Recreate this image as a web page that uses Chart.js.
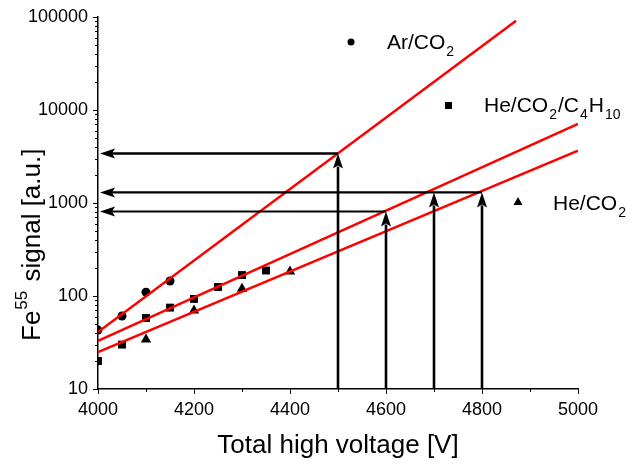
<!DOCTYPE html>
<html>
<head>
<meta charset="utf-8">
<script src="https://cdn.jsdelivr.net/npm/chart.js@4.4.1/dist/chart.umd.min.js"></script>
<style>
  body { margin: 0; background: #fff; }
  #wrap { width: 638px; height: 464px; }
</style>
</head>
<body>
<div id="wrap"><canvas id="feChart"></canvas></div>
<script>
// measured points
var arX = [4000, 4050, 4100, 4150];
var arY = [43, 61, 110, 145];
var c4X = [4000, 4050, 4100, 4150, 4200, 4250, 4300, 4350];
var c4Y = [20, 30, 58, 75, 93, 125, 168, 188];
var heX = [4100, 4200, 4300, 4400];
var heY = [34, 70, 120, 183];

// exponential fits (end points)
var arFitX = [4000, 4871];
var arFitY = [41, 91000];
var c4FitX = [4000, 5000];
var c4FitY = [33, 7100];
var heFitX = [4000, 5000];
var heFitY = [25, 3650];

// working points: vertical arrows up to the fit, horizontal arrows back to the axis
var arrowX = [4500, 4600, 4700, 4800];
var arrowY = [3400, 810, 1300, 1300];
var hArrowFrom = [4500, 4600, 4800];
var hArrowY = [3400, 810, 1300];

var yMajor = [10, 100, 1000, 10000, 100000];
var xMajor = [4000, 4200, 4400, 4600, 4800, 5000];

function pts(xs, ys) {
    return xs.map(function(x, i) { return {x: x, y: ys[i]}; });
}

var FONT = 'Arial, "Liberation Sans", sans-serif';

function arrowHead(ctx, x, y, dir) {
    // dir: 'up' or 'left'
    ctx.beginPath();
    if (dir === 'up') {
        ctx.moveTo(x, y);
        ctx.lineTo(x - 5, y + 15);
        ctx.lineTo(x, y + 12);
        ctx.lineTo(x + 5, y + 15);
    } else {
        ctx.moveTo(x, y);
        ctx.lineTo(x + 15, y - 5);
        ctx.lineTo(x + 12, y);
        ctx.lineTo(x + 15, y + 5);
    }
    ctx.closePath();
    ctx.fill();
}

function subText(ctx, parts, x, y) {
    // parts: [text, isSub]
    parts.forEach(function(p) {
        if (p[1]) {
            ctx.font = '14px ' + FONT;
            ctx.fillText(p[0], x + 1, y + 7);
            x += ctx.measureText(p[0]).width + 2;
        } else {
            ctx.font = '21px ' + FONT;
            ctx.fillText(p[0], x, y);
            x += ctx.measureText(p[0]).width;
        }
    });
}

var extras = {
    id: 'extras',
    afterDraw: function(chart) {
        var ctx = chart.ctx;
        var xs = chart.scales.x, ys = chart.scales.y;
        var x0 = xs.getPixelForValue(4000);
        var yb = ys.getPixelForValue(10);
        ctx.save();
        ctx.strokeStyle = '#000';
        ctx.fillStyle = '#000';

        // minor ticks
        ctx.lineWidth = 1;
        ctx.beginPath();
        for (var d = 10; d < 100000; d *= 10) {
            for (var m = 2; m < 10; m++) {
                var py = Math.round(ys.getPixelForValue(d * m)) + 0.5;
                ctx.moveTo(x0 - 3, py);
                ctx.lineTo(x0, py);
            }
        }
        for (var v = 4100; v < 5000; v += 200) {
            var px = Math.round(xs.getPixelForValue(v)) + 0.5;
            ctx.moveTo(px, yb);
            ctx.lineTo(px, yb + 3);
        }
        ctx.stroke();

        // horizontal arrows
        hArrowY.forEach(function(val, i) {
            var py = ys.getPixelForValue(val);
            var pxFrom = xs.getPixelForValue(hArrowFrom[i]);
            ctx.lineWidth = i === 1 ? 1.8 : 2.4;
            ctx.beginPath();
            ctx.moveTo(pxFrom, py);
            ctx.lineTo(x0 + 13, py);
            ctx.stroke();
            arrowHead(ctx, x0 + 2, py, 'left');
        });

        // vertical arrows
        ctx.lineWidth = 2.6;
        arrowX.forEach(function(val, i) {
            var px = xs.getPixelForValue(val);
            var py = ys.getPixelForValue(arrowY[i]);
            ctx.beginPath();
            ctx.moveTo(px, yb);
            ctx.lineTo(px, py + 13);
            ctx.stroke();
            arrowHead(ctx, px, py, 'up');
        });

        // legend labels
        ctx.textAlign = 'left';
        ctx.textBaseline = 'alphabetic';
        ctx.beginPath();
        ctx.arc(351, 42, 3.5, 0, Math.PI * 2);
        ctx.fill();
        subText(ctx, [['Ar/CO', 0], ['2', 1]], 387, 49);
        ctx.fillRect(445, 102, 7, 7);
        subText(ctx, [['He/CO', 0], ['2', 1], ['/C', 0], ['4', 1], ['H', 0], ['10', 1]], 484, 112);
        ctx.beginPath();
        ctx.moveTo(518, 197);
        ctx.lineTo(522.5, 205);
        ctx.lineTo(513.5, 205);
        ctx.closePath();
        ctx.fill();
        subText(ctx, [['He/CO', 0], ['2', 1]], 553, 210);

        // y title with superscript
        ctx.translate(40, 341);
        ctx.rotate(-Math.PI / 2);
        ctx.font = '26px ' + FONT;
        ctx.fillText('Fe', 0, 0);
        var w = ctx.measureText('Fe').width;
        ctx.font = '17px ' + FONT;
        ctx.fillText('55', w + 1, -13);
        w += ctx.measureText('55').width + 3;
        ctx.font = '26px ' + FONT;
        ctx.fillText(' signal [a.u.]', w, 0);
        ctx.restore();
    }
};

var ctx1 = document.getElementById('feChart').getContext('2d');
var feChart = new Chart(ctx1, {
    type: 'scatter',
    data: {
        datasets: [
            {label: 'Ar/CO2 fit', type: 'line', data: pts(arFitX, arFitY), borderColor: '#ff0000', borderWidth: 2.5, pointRadius: 0, fill: false},
            {label: 'He/CO2/C4H10 fit', type: 'line', data: pts(c4FitX, c4FitY), borderColor: '#ff0000', borderWidth: 2.5, pointRadius: 0, fill: false},
            {label: 'He/CO2 fit', type: 'line', data: pts(heFitX, heFitY), borderColor: '#ff0000', borderWidth: 2.5, pointRadius: 0, fill: false},
            {label: 'Ar/CO2', data: pts(arX, arY), pointStyle: 'circle', pointRadius: 4.5, backgroundColor: '#000', borderColor: '#000', borderWidth: 0},
            {label: 'He/CO2/C4H10', data: pts(c4X, c4Y), pointStyle: 'rect', pointRadius: 5.6, backgroundColor: '#000', borderColor: '#000', borderWidth: 0},
            {label: 'He/CO2', data: pts(heX, heY), pointStyle: 'triangle', pointRadius: 6, backgroundColor: '#000', borderColor: '#000', borderWidth: 0}
        ]
    },
    options: {
        responsive: true,
        maintainAspectRatio: false,
        animation: false,
        layout: { padding: { top: 17, right: 60, left: 0, bottom: 0 } },
        plugins: { legend: { display: false }, tooltip: { enabled: false } },
        scales: {
            x: {
                type: 'linear',
                min: 4000,
                max: 5000,
                afterFit: function(s) { s.height = 75; },
                afterBuildTicks: function(s) { s.ticks = xMajor.map(function(v) { return {value: v}; }); },
                ticks: { color: '#000', font: { size: 18, family: FONT }, padding: 5, maxRotation: 0,
                         callback: function(v) { return String(v); } },
                grid: { drawOnChartArea: false, drawTicks: true, tickLength: 5, color: '#000' },
                border: { display: true, color: '#000', width: 1.5 },
                title: { display: true, text: 'Total high voltage [V]', color: '#000',
                         font: { size: 26, family: FONT }, padding: { top: 0, bottom: 3 } }
            },
            y: {
                type: 'logarithmic',
                min: 10,
                max: 100000,
                afterFit: function(s) { s.width = 98; },
                afterBuildTicks: function(s) { s.ticks = yMajor.map(function(v) { return {value: v}; }); },
                ticks: { color: '#000', font: { size: 18, family: FONT }, padding: 5,
                         callback: function(v) { return String(v); } },
                grid: { drawOnChartArea: false, drawTicks: true, tickLength: 5, color: '#000' },
                border: { display: true, color: '#000', width: 1.5 }
            }
        }
    },
    plugins: [extras]
});
</script>
</body>
</html>
